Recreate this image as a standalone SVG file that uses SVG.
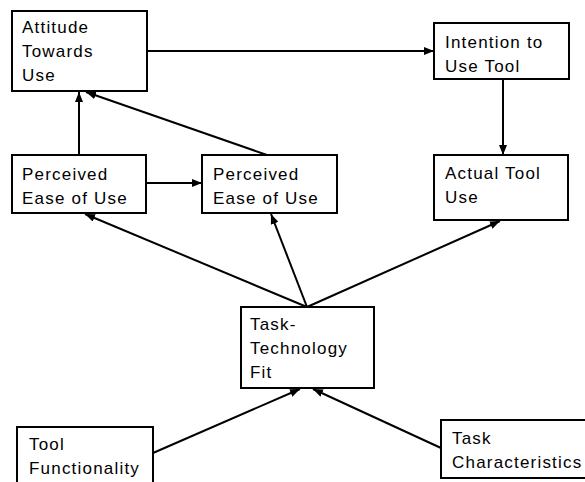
<svg xmlns="http://www.w3.org/2000/svg" width="585" height="482" viewBox="0 0 585 482">
  <defs>
    <marker id="arrow" viewBox="0 0 10 8" refX="10" refY="4" markerWidth="10" markerHeight="8" markerUnits="userSpaceOnUse" orient="auto">
      <path d="M0,0 L10,4 L0,8 Z" fill="#000"/>
    </marker>
    <style>
      .box { fill: #fff; stroke: #000; stroke-width: 2; }
      .lbl { font-family: "Liberation Sans", Arial, sans-serif; font-size: 17px; letter-spacing: 1.2px; fill: #000; }
      .edge { stroke: #000; stroke-width: 2; fill: none; marker-end: url(#arrow); }
    </style>
  </defs>
  <rect width="585" height="482" fill="#fff"/>

  <g id="connectors">
    <line class="edge" x1="147" y1="51" x2="434" y2="51"/>
    <line class="edge" x1="503" y1="79" x2="503" y2="155"/>
    <line class="edge" x1="79" y1="155" x2="79" y2="92"/>
    <line class="edge" x1="267" y1="155" x2="86" y2="92"/>
    <line class="edge" x1="146" y1="183" x2="202" y2="183"/>
    <line class="edge" x1="307" y1="307" x2="85" y2="214"/>
    <line class="edge" x1="307" y1="307" x2="271" y2="214"/>
    <line class="edge" x1="307" y1="307" x2="500" y2="221"/>
    <line class="edge" x1="153" y1="453" x2="300" y2="389"/>
    <line class="edge" x1="441" y1="448" x2="313" y2="389"/>
  </g>

  <g id="attitude">
    <rect class="box" x="12" y="11" width="135" height="80"/>
    <text class="lbl" x="22" y="33">Attitude</text>
    <text class="lbl" x="22" y="57">Towards</text>
    <text class="lbl" x="22" y="81">Use</text>
  </g>

  <g id="intention">
    <rect class="box" x="434" y="23" width="135" height="56"/>
    <text class="lbl" x="445" y="48">Intention to</text>
    <text class="lbl" x="445" y="72">Use Tool</text>
  </g>

  <g id="perceived-ease-1">
    <rect class="box" x="12" y="155" width="134" height="58"/>
    <text class="lbl" x="22" y="180">Perceived</text>
    <text class="lbl" x="22" y="204">Ease of Use</text>
  </g>

  <g id="perceived-ease-2">
    <rect class="box" x="202" y="155" width="135" height="58"/>
    <text class="lbl" x="213" y="180">Perceived</text>
    <text class="lbl" x="213" y="204">Ease of Use</text>
  </g>

  <g id="actual-use">
    <rect class="box" x="434" y="155" width="134" height="65"/>
    <text class="lbl" x="445" y="179">Actual Tool</text>
    <text class="lbl" x="445" y="203">Use</text>
  </g>

  <g id="task-technology-fit">
    <rect class="box" x="241" y="307" width="133" height="81"/>
    <text class="lbl" x="250" y="330">Task-</text>
    <text class="lbl" x="250" y="354">Technology</text>
    <text class="lbl" x="250" y="378">Fit</text>
  </g>

  <g id="tool-functionality">
    <rect class="box" x="17" y="427" width="136" height="70"/>
    <text class="lbl" x="29" y="450">Tool</text>
    <text class="lbl" x="29" y="474">Functionality</text>
  </g>

  <g id="task-characteristics">
    <rect class="box" x="441" y="420" width="160" height="58"/>
    <text class="lbl" x="452" y="444">Task</text>
    <text class="lbl" x="452" y="468">Characteristics</text>
  </g>
</svg>
